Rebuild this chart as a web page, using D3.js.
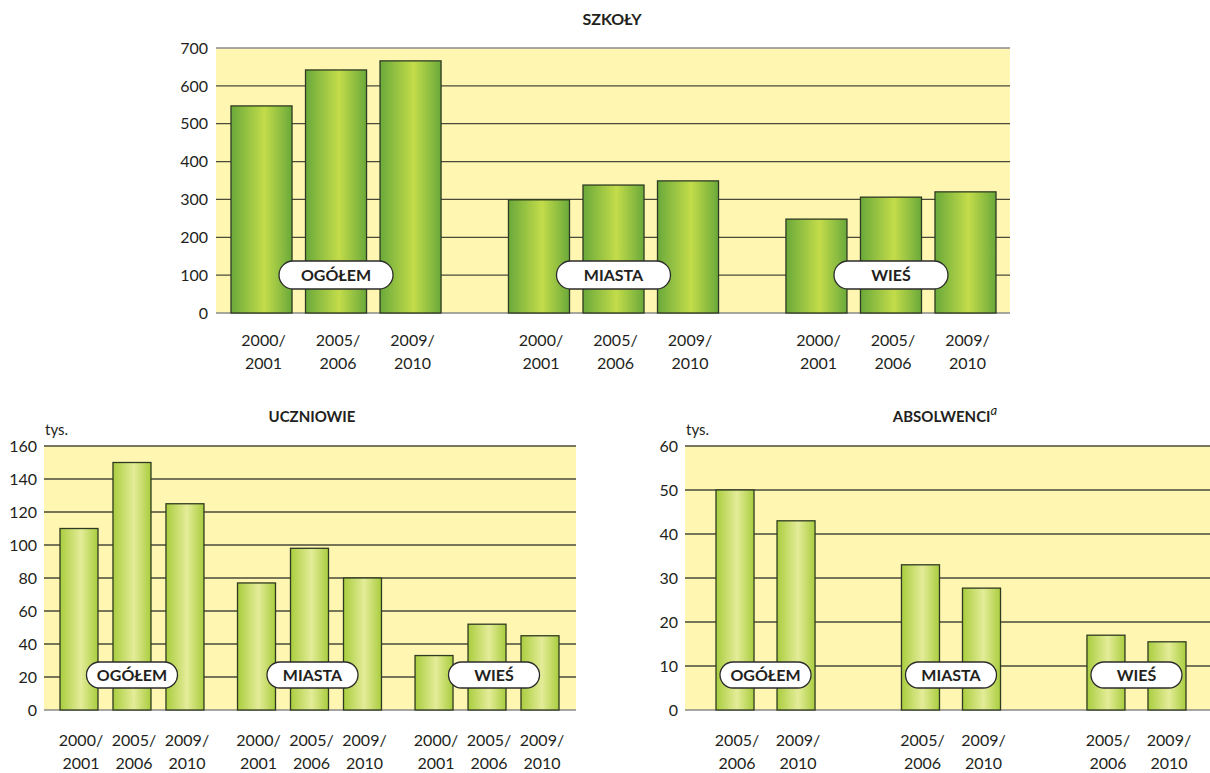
<!DOCTYPE html>
<html><head><meta charset="utf-8">
<script src="https://cdn.jsdelivr.net/npm/d3@7"></script>
<style>body{margin:0;background:#fff}svg{display:block}text{font-family:Lato,"Open Sans",sans-serif;fill:#231f20}</style>
</head><body><svg id="c" width="1210" height="773"></svg>
<script>
// ---- data ----
const groups = ["OGÓŁEM", "MIASTA", "WIEŚ"];
const yearsSchools = ["2000/2001", "2005/2006", "2009/2010"];
const yearsPupils = ["2000/2001", "2005/2006", "2009/2010"];
const yearsGrads = ["2005/2006", "2009/2010"];
const schoolsValues = [[547, 642, 666], [299, 338, 349], [248, 306, 320]];
const pupilsValues = [[110, 150, 125], [77, 98, 80], [33, 52, 45]];
const gradsValues = [[50, 43], [33, 27.7], [17, 15.5]];
const schoolsTicks = [0, 100, 200, 300, 400, 500, 600, 700];
const pupilsTicks = [0, 20, 40, 60, 80, 100, 120, 140, 160];
const gradsTicks = [0, 10, 20, 30, 40, 50, 60];
const titles = ["SZKOŁY", "UCZNIOWIE", "ABSOLWENCI"];
const unitLabel = "tys.";

const svg = d3.select("#c");
const defs = svg.append("defs");
function grad(id, edge, mid) {
  const g = defs.append("linearGradient").attr("id", id).attr("x1", "0").attr("x2", "1").attr("y1", "0").attr("y2", "0");
  g.append("stop").attr("offset", "0%").attr("stop-color", edge);
  g.append("stop").attr("offset", "55%").attr("stop-color", mid);
  g.append("stop").attr("offset", "100%").attr("stop-color", edge);
}
grad("gDark", "#6aa93a", "#c3dc4a");
grad("gLight", "#a9cd3e", "#e4ec98");

function chart(o) {
  const g = svg.append("g");
  const y = d3.scaleLinear().domain([0, o.max]).range([o.y0, o.y1]);
  const gx = d3.scaleBand().domain(groups).range(o.groupRange).paddingInner(o.groupPad);
  const bx = d3.scaleBand().domain(o.years).range([0, gx.bandwidth()]).paddingInner(o.barPad);
  g.append("rect").attr("x", o.plotX0).attr("y", y(o.max)).attr("width", o.plotX1 - o.plotX0)
    .attr("height", y(0) - y(o.max)).attr("fill", "#fff6b1");
  g.selectAll("line.grid").data(o.ticks).join("line")
    .attr("x1", o.plotX0).attr("x2", o.plotX1)
    .attr("y1", d => y(d)).attr("y2", d => y(d))
    .attr("stroke", d => d === 0 ? "#8a8a8a" : (d === o.max && o.lightTop ? "#8a8a8a" : "#4a4a3a"))
    .attr("stroke-width", d => d === 0 ? 1.6 : 1.3);
  g.selectAll("text.yt").data(o.ticks).join("text")
    .attr("x", o.tickX).attr("y", d => y(d)).attr("dy", "0.36em")
    .attr("text-anchor", "end").attr("font-size", 16).text(d => d);
  o.values.forEach((vals, gi) => {
    const grp = groups[gi];
    g.selectAll(null).data(vals).join("rect")
      .attr("x", (d, i) => gx(grp) + bx(o.years[i]))
      .attr("y", d => y(d)).attr("width", bx.bandwidth()).attr("height", d => y(0) - y(d))
      .attr("fill", `url(#${o.grad})`).attr("stroke", "#2f3a22").attr("stroke-width", 1.3);
    o.years.forEach((yr, i) => {
      const parts = yr.split("/");
      const cx = gx(grp) + bx(yr) + bx.bandwidth() / 2 + 2;
      const t = g.append("text").attr("x", cx).attr("y", o.labelY).attr("text-anchor", "middle").attr("font-size", 16);
      t.append("tspan").attr("x", cx).attr("dy", 0).text(parts[0] + "/");
      t.append("tspan").attr("x", cx).attr("dy", 23).text(parts[1]);
    });
    const pcx = gx(grp) + gx.bandwidth() / 2 + (o.pillShift ? o.pillShift[gi] : 0);
    g.append("rect").attr("x", pcx - o.pillW / 2).attr("y", o.pillY - o.pillH / 2)
      .attr("width", o.pillW).attr("height", o.pillH).attr("rx", o.pillH / 2)
      .attr("fill", "#fff").attr("stroke", "#2b2b2b").attr("stroke-width", 1.3);
    g.append("text").attr("x", pcx).attr("y", o.pillY).attr("dy", "0.36em").attr("text-anchor", "middle")
      .attr("font-size", 16).attr("font-weight", "bold").text(grp);
  });
  const tt = g.append("text").attr("x", o.titleX).attr("y", o.titleY).attr("text-anchor", "middle")
    .attr("font-size", o.titleSize).attr("font-weight", "bold").text(o.title);
  if (o.sup) tt.append("tspan").attr("dy", -7).attr("font-size", 13).attr("font-style", "italic").attr("font-weight", "normal").text(o.sup);
  if (o.unit) g.append("text").attr("x", o.unitX).attr("y", o.unitY).attr("font-size", 15).text(o.unit);
}

chart({ values: schoolsValues, years: yearsSchools, ticks: schoolsTicks, max: 700, y0: 313, y1: 48,
  plotX0: 216, plotX1: 1010, groupRange: [231, 996], groupPad: 0.243, barPad: 0.181, grad: "gDark",
  tickX: 208, labelY: 346, pillW: 114, pillH: 28, pillY: 275, title: titles[0], titleX: 612, titleY: 25, titleSize: 16, lightTop: true });
chart({ values: pupilsValues, years: yearsPupils, ticks: pupilsTicks, max: 160, y0: 710, y1: 446,
  plotX0: 44, plotX1: 576, groupRange: [60, 559], groupPad: 0.189, barPad: 0.283, grad: "gLight",
  tickX: 37, labelY: 746, pillW: 91, pillH: 26, pillY: 675, pillShift: [0, 3, 7], title: titles[1], titleX: 312, titleY: 422, titleSize: 15,
  unit: unitLabel, unitX: 45, unitY: 435 });
chart({ values: gradsValues, years: yearsGrads, ticks: gradsTicks, max: 60, y0: 710, y1: 446,
  plotX0: 685, plotX1: 1210, groupRange: [716, 1186], groupPad: 0.466, barPad: 0.377, grad: "gLight",
  tickX: 678, labelY: 746, pillW: 91, pillH: 26, pillY: 675, title: titles[2], titleX: 945, titleY: 422, titleSize: 15, sup: "a",
  unit: unitLabel, unitX: 686, unitY: 435 });
</script></body></html>
